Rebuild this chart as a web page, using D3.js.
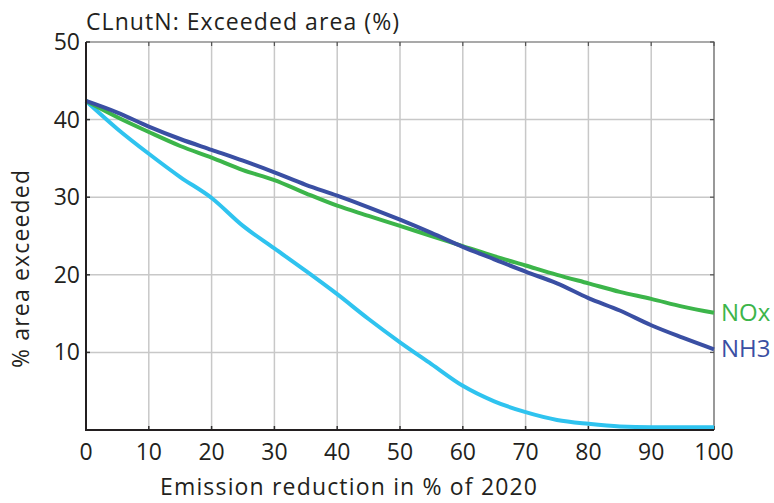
<!DOCTYPE html>
<html><head><meta charset="utf-8">
<script src="https://cdn.jsdelivr.net/npm/d3@7"></script>
<style>body{margin:0;background:#fff}svg{display:block}text{font-family:"Open Sans",sans-serif;fill:#231f20}</style>
</head><body><svg id="c" width="774" height="503"></svg>
<script>
const reduction = [0,5,10,15,20,25,30,35,40,45,50,55,60,65,70,75,80,85,90,95,100];
const nh3 = [42.4,40.9,39.1,37.5,36.1,34.7,33.2,31.6,30.2,28.7,27.1,25.4,23.6,22.0,20.4,18.9,17.0,15.4,13.5,11.9,10.4];
const nox = [42.4,40.3,38.4,36.6,35.1,33.5,32.2,30.5,28.9,27.6,26.3,25.0,23.7,22.4,21.2,20.0,18.9,17.8,16.9,15.9,15.1];
const both = [42.4,38.8,35.6,32.6,29.9,26.3,23.4,20.5,17.5,14.3,11.3,8.5,5.7,3.7,2.3,1.3,0.8,0.45,0.35,0.35,0.35];
const xTicks = [0,10,20,30,40,50,60,70,80,90,100];
const yTicks = [10,20,30,40,50];
const title = "CLnutN: Exceeded area (%)";
const xTitle = "Emission reduction in % of 2020";
const yTitle = "% area exceeded";

const svg = d3.select("#c");
const L=86,R=714,T=42,B=430;
const x = d3.scaleLinear().domain([0,100]).range([L,R]);
const y = d3.scaleLinear().domain([0,50]).range([B,T]);

// grid
svg.append("g").selectAll("line").data(xTicks.slice(1,-1)).join("line")
  .attr("x1",d=>x(d)).attr("x2",d=>x(d)).attr("y1",T).attr("y2",B)
  .attr("stroke","#c8c8c8").attr("stroke-width",1.5);
svg.append("g").selectAll("line").data(yTicks.slice(0,-1)).join("line")
  .attr("y1",d=>y(d)).attr("y2",d=>y(d)).attr("x1",L).attr("x2",R)
  .attr("stroke","#c8c8c8").attr("stroke-width",1.5);
// frame top/right
svg.append("path").attr("d",`M${L},${T}H${R}V${B}`).attr("fill","none").attr("stroke","#555").attr("stroke-width",1.2);
// inner ticks
svg.append("g").selectAll("line").data(xTicks).join("line")
  .attr("x1",d=>x(d)).attr("x2",d=>x(d)).attr("y1",B).attr("y2",B-4).attr("stroke","#333").attr("stroke-width",1.5);
svg.append("g").selectAll("line").data(xTicks).join("line")
  .attr("x1",d=>x(d)).attr("x2",d=>x(d)).attr("y1",T).attr("y2",T+4).attr("stroke","#555").attr("stroke-width",1.2);
svg.append("g").selectAll("line").data(yTicks).join("line")
  .attr("y1",d=>y(d)).attr("y2",d=>y(d)).attr("x1",L).attr("x2",L+4).attr("stroke","#333").attr("stroke-width",1.5);
svg.append("g").selectAll("line").data(yTicks).join("line")
  .attr("y1",d=>y(d)).attr("y2",d=>y(d)).attr("x1",R).attr("x2",R-4).attr("stroke","#555").attr("stroke-width",1.2);

// series
const line = d3.line().x((d,i)=>x(reduction[i])).y(d=>y(d)).curve(d3.curveMonotoneX);
const series = [{v:both,c:"#2fc3ef"},{v:nox,c:"#3cb54a"},{v:nh3,c:"#3a4fa3"}];
svg.append("g").selectAll("path").data(series).join("path")
  .attr("d",d=>line(d.v)).attr("fill","none").attr("stroke",d=>d.c)
  .attr("stroke-width",4).attr("stroke-linejoin","round");

// axes lines
svg.append("path").attr("d",`M${L},${T}V${B}H${R}`).attr("fill","none").attr("stroke","#231f20").attr("stroke-width",2);

// tick labels
svg.append("g").selectAll("text").data(xTicks).join("text")
  .attr("x",d=>x(d)).attr("y",460).attr("text-anchor","middle").attr("font-size",23).text(d=>d);
svg.append("g").selectAll("text").data(yTicks).join("text")
  .attr("x",80).attr("y",d=>y(d)+8).attr("text-anchor","end").attr("font-size",23).text(d=>d);

// titles
svg.append("text").attr("x",86).attr("y",30).attr("font-size",23)
  .attr("textLength",313).attr("lengthAdjust","spacing").text(title);
svg.append("text").attr("x",160).attr("y",495).attr("font-size",23)
  .attr("textLength",377).attr("lengthAdjust","spacing").text(xTitle);
svg.append("text").attr("transform","translate(29,269) rotate(-90)").attr("text-anchor","middle").attr("font-size",23)
  .attr("textLength",198).attr("lengthAdjust","spacing").text(yTitle);

// series labels
svg.append("text").attr("x",721).attr("y",y(nox[nox.length-1])+8).attr("font-size",24).style("fill","#3cb54a").text("NOx");
svg.append("text").attr("x",721).attr("y",y(nh3[nh3.length-1])+8).attr("font-size",24).style("fill","#3a4fa3").text("NH3");
</script></body></html>
